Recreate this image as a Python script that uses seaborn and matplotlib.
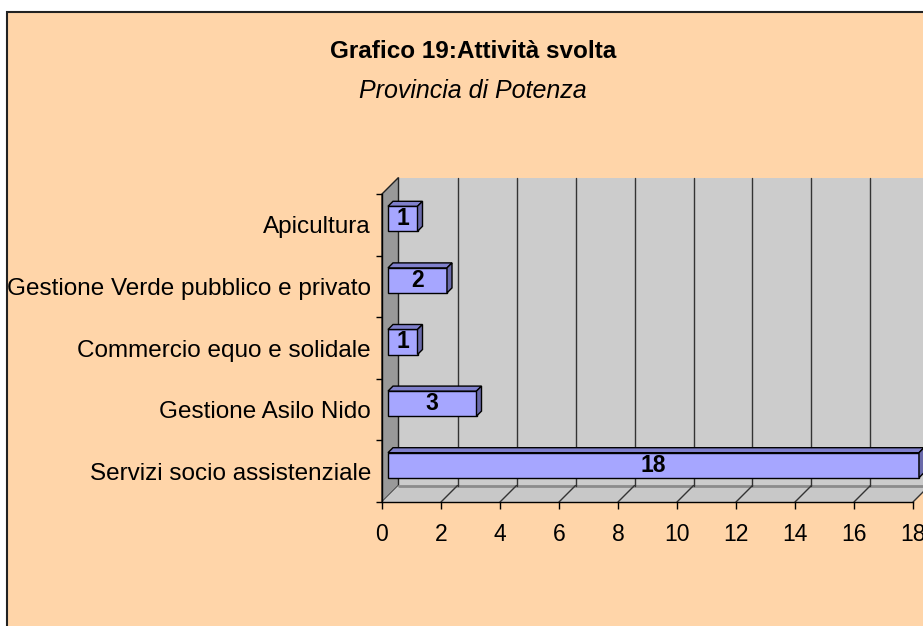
import matplotlib
matplotlib.use("Agg")
import matplotlib.pyplot as plt
import matplotlib.transforms as mtransforms
from matplotlib import font_manager
from matplotlib.patches import Polygon, Rectangle
from matplotlib.lines import Line2D
import seaborn as sns
import pandas as pd

# ---- data ----
categories = ["Apicultura", "Gestione Verde pubblico e privato",
              "Commercio equo e solidale", "Gestione Asilo Nido",
              "Servizi socio assistenziale"]
values = [1, 2, 1, 3, 18]
xticks = [0, 2, 4, 6, 8, 10, 12, 14, 16, 18]
title = "Grafico 19:Attività svolta"
subtitle = "Provincia di Potenza"

# ---- style ----
sns.set_theme(style="white")
plt.rcParams['font.family'] = ['Liberation Sans', 'DejaVu Sans']
plt.rcParams['text.color'] = 'black'
plt.rcParams['xtick.color'] = 'black'
plt.rcParams['ytick.color'] = 'black'
plt.rcParams['xtick.labelcolor'] = 'black'
plt.rcParams['ytick.labelcolor'] = 'black'

installed = {f.name for f in font_manager.fontManager.ttflist}
if "Liberation Sans Narrow" in installed:
    VAL_FAMILY, VAL_SIZE = ["Liberation Sans Narrow", "Liberation Sans"], 19
else:
    VAL_FAMILY, VAL_SIZE = ["Liberation Sans", "DejaVu Sans"], 16.5

PEACH = "#FFD5A9"
BACK = "#CCCCCC"
LEFTW = "#999999"
FLOOR = "#C8C8C8"
FRONT = "#A6A6FF"
TOP = "#8080CC"
SIDE = "#6A6AAA"
DEPTH = 16.5      # px depth of the 3D box
BAR_D0, BAR_D1 = 6, 11

W, H = 923, 626
fig = plt.figure(figsize=(W / 100, H / 100), dpi=100)
fig.patch.set_facecolor("white")

# chart area background with border
fig.patches.append(Rectangle((7 / W, -0.1), 1.2, 1.1 - 12.5 / H,
                             transform=fig.transFigure, facecolor=PEACH,
                             edgecolor="#222222", linewidth=1.5, zorder=-10))

ax = fig.add_axes([382 / W, (H - 502) / H, (913 - 382) / W, (502 - 194) / H])
ax.set_facecolor("none")

df = pd.DataFrame({"cat": categories, "val": values})
sns.barplot(data=df, x="val", y="cat", orient="h", color=FRONT,
            saturation=1, edgecolor="black", linewidth=1, width=0.406, ax=ax)

ax.set_xlim(0, 18)
ax.set_ylim(len(categories) - 0.5, -0.5)
ax.set_xlabel("")
ax.set_ylabel("")

def P(x, y, d=0.0):
    px, py = ax.transData.transform((x, y))
    return (px + d, py + d)

ident = mtransforms.IdentityTransform()
ytop, ybot = -0.5, len(categories) - 0.5
xmax = 18

def poly(pts, fc, ec="none", lw=0, z=0):
    p = Polygon(pts, closed=True, facecolor=fc, edgecolor=ec, linewidth=lw,
                transform=ident, zorder=z, clip_on=False)
    ax.add_artist(p)
    return p

def line(a, b, c="#333333", lw=1, z=0.3):
    ax.add_artist(Line2D([a[0], b[0]], [a[1], b[1]], color=c, linewidth=lw,
                         transform=ident, zorder=z, clip_on=False))

# back wall
poly([P(0, ybot, DEPTH), P(xmax + 1, ybot, DEPTH), P(xmax + 1, ytop, DEPTH),
      P(0, ytop, DEPTH)], BACK, z=0.1)
# left wall
poly([P(0, ybot), P(0, ytop), P(0, ytop, DEPTH), P(0, ybot, DEPTH)],
     LEFTW, ec="#222222", lw=1, z=0.2)
# floor
poly([P(0, ybot), P(xmax, ybot), P(xmax, ybot, DEPTH), P(0, ybot, DEPTH)],
     FLOOR, z=0.2)

# back wall bottom edge
line(P(0, ybot, DEPTH), P(xmax + 1, ybot, DEPTH), c="#8C8C8C", lw=2)
# gridlines on back wall and floor
for t in xticks:
    if 0 < t < xmax + 1:
        line(P(t, ybot, DEPTH), P(t, ytop, DEPTH), c="#333333", lw=1)
    if t > 0:
        line(P(t, ybot), P(t, ybot, DEPTH), c="#333333", lw=1)

# 3D bars
bar_off = mtransforms.offset_copy(ax.transData, fig=fig, x=BAR_D0, y=BAR_D0,
                                  units='dots')
dd = BAR_D1 - BAR_D0
for p, v in zip(list(ax.patches), values):
    x0, w, y0, h = p.get_x(), p.get_width(), p.get_y(), p.get_height()
    p.set_transform(bar_off)
    p.set_clip_on(False)
    p.set_zorder(2)
    tl = P(x0, y0, BAR_D0); tr = P(x0 + w, y0, BAR_D0)
    br = P(x0 + w, y0 + h, BAR_D0)
    poly([tl, tr, (tr[0] + dd, tr[1] + dd), (tl[0] + dd, tl[1] + dd)],
         TOP, ec="black", lw=1, z=2)
    poly([tr, br, (br[0] + dd, br[1] + dd), (tr[0] + dd, tr[1] + dd)],
         SIDE, ec="black", lw=1, z=2)
    ax.text(x0 + w / 2, y0 + h / 2, f"{v}", transform=bar_off,
            ha="center", va="center", fontsize=VAL_SIZE, fontweight="bold",
            family=VAL_FAMILY, color="black", zorder=3, clip_on=False)

# axes, ticks
for s in ["top", "right"]:
    ax.spines[s].set_visible(False)
for s in ["left", "bottom"]:
    ax.spines[s].set_visible(True)
    ax.spines[s].set_color("black")
    ax.spines[s].set_linewidth(1)
    ax.spines[s].set_zorder(4)

ax.set_xticks(xticks)
ax.set_xticklabels([str(t) for t in xticks])
ax.tick_params(axis="x", which="major", direction="out", length=5, width=1,
               color="black", labelsize=16.5, pad=10, bottom=True)

ax.set_yticks([i - 0.5 for i in range(len(categories) + 1)])
ax.set_yticklabels([])
ax.set_yticks(range(len(categories)), minor=True)
ax.set_yticklabels(categories, minor=True)
ax.tick_params(axis="y", which="major", direction="out", length=4.3, width=1,
               color="black", left=True)
ax.tick_params(axis="y", which="minor", length=0, labelsize=17.5, pad=8)
ax.grid(False)

fig.text(473 / W, 1 - 52 / H, title, ha="center", va="center",
         fontsize=17.5, fontweight="bold", color="black")
fig.text(473 / W, 1 - 91 / H, subtitle, ha="center", va="center",
         fontsize=18, fontstyle="italic", color="black")

fig.savefig("out.png", dpi=100, facecolor="white")
